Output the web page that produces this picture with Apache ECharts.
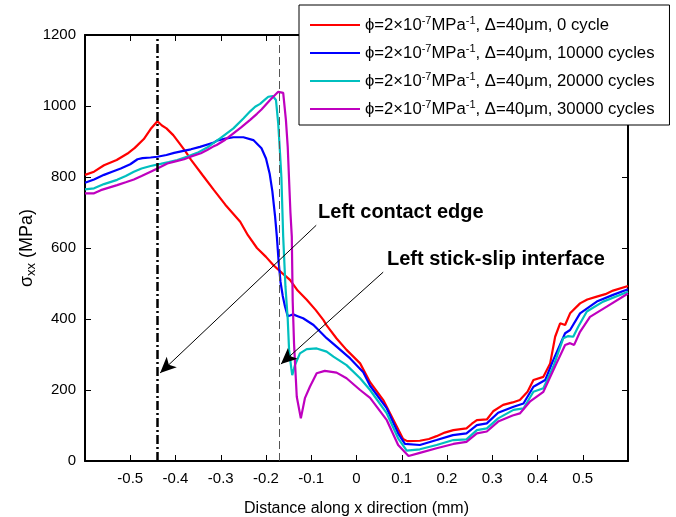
<!DOCTYPE html>
<html>
<head>
<meta charset="utf-8">
<script src="https://cdn.jsdelivr.net/npm/echarts@6/dist/echarts.min.js"></script>
<style>
  html, body { margin: 0; padding: 0; background: #fff; }
  #chart { width: 676px; height: 517px; }
</style>
</head>
<body>
<div id="chart"></div>
<script>
// axis ticks
const xTicks = [-0.5, -0.4, -0.3, -0.2, -0.1, 0, 0.1, 0.2, 0.3, 0.4, 0.5]
const yTicks = [0, 200, 400, 600, 800, 1000, 1200]

const cycleNames = ['0 cycle', '10000 cycles', '20000 cycles', '30000 cycles']
const lineColors = ['#ff0000', '#0000ff', '#00bfbf', '#bf00bf']

// vertical markers (mm)
const contactEdgeX = -0.44
const stickSlipX = -0.172

// sigma_xx (MPa) vs distance (mm)
const cycle0 = [
  [-0.6, 806], [-0.58, 815], [-0.558, 833], [-0.53, 848], [-0.506, 866], [-0.49, 882], [-0.47, 907],
  [-0.455, 935], [-0.44, 957], [-0.43, 945], [-0.42, 937], [-0.405, 918], [-0.392, 896], [-0.378, 872],
  [-0.366, 849], [-0.34, 805], [-0.315, 763], [-0.29, 722], [-0.257, 674], [-0.24, 636], [-0.22, 600],
  [-0.2, 575], [-0.184, 552], [-0.165, 530], [-0.147, 510], [-0.13, 480], [-0.11, 454], [-0.09, 425],
  [-0.073, 397], [-0.066, 382], [-0.044, 345], [-0.022, 313], [0.008, 275], [0.03, 222], [0.06, 170],
  [0.089, 97], [0.103, 62], [0.112, 56], [0.14, 57], [0.16, 62], [0.177, 70], [0.195, 80], [0.214, 87],
  [0.243, 92], [0.255, 105], [0.266, 115], [0.288, 117], [0.302, 140], [0.324, 158], [0.345, 165],
  [0.361, 172], [0.378, 195], [0.391, 228], [0.413, 237], [0.428, 275], [0.439, 350], [0.45, 388],
  [0.461, 383], [0.472, 416], [0.494, 444], [0.51, 455], [0.531, 463], [0.55, 470], [0.567, 480], [0.6, 493]
]
const cycle10000 = [
  [-0.6, 784], [-0.58, 793], [-0.558, 806], [-0.54, 815], [-0.521, 824], [-0.5, 836], [-0.484, 850],
  [-0.473, 853], [-0.455, 855], [-0.44, 857], [-0.42, 862], [-0.403, 868], [-0.385, 873], [-0.366, 878],
  [-0.346, 885], [-0.315, 897], [-0.309, 902], [-0.29, 908], [-0.272, 912], [-0.25, 912], [-0.228, 904],
  [-0.21, 881], [-0.2, 852], [-0.192, 810], [-0.186, 760], [-0.18, 690], [-0.176, 632], [-0.172, 560],
  [-0.168, 505], [-0.163, 465], [-0.158, 435], [-0.152, 408], [-0.147, 410], [-0.14, 413], [-0.13, 408],
  [-0.118, 402], [-0.095, 383], [-0.066, 346], [-0.044, 322], [-0.014, 289], [0.015, 250], [0.03, 212],
  [0.067, 148], [0.092, 78], [0.107, 48], [0.14, 45], [0.177, 59], [0.213, 73], [0.243, 78], [0.266, 101],
  [0.288, 106], [0.313, 136], [0.347, 153], [0.369, 162], [0.391, 209], [0.417, 228], [0.435, 285],
  [0.461, 360], [0.472, 369], [0.494, 416], [0.531, 449], [0.567, 468], [0.6, 484]
]
const cycle20000 = [
  [-0.6, 765], [-0.58, 768], [-0.558, 780], [-0.529, 792], [-0.51, 803], [-0.492, 815], [-0.475, 824],
  [-0.455, 831], [-0.433, 837], [-0.415, 842], [-0.396, 848], [-0.375, 857], [-0.352, 868], [-0.33, 883],
  [-0.315, 897], [-0.3, 910], [-0.272, 937], [-0.25, 965], [-0.235, 985], [-0.224, 998], [-0.213, 1006],
  [-0.205, 1015], [-0.195, 1026], [-0.185, 1028], [-0.178, 1017], [-0.173, 951], [-0.169, 867],
  [-0.166, 800], [-0.162, 632], [-0.157, 491], [-0.152, 400], [-0.149, 313], [-0.144, 260], [-0.142, 242],
  [-0.136, 270], [-0.125, 303], [-0.11, 315], [-0.088, 317], [-0.066, 308], [-0.051, 294], [-0.022, 270],
  [0.008, 233], [0.03, 200], [0.067, 134], [0.092, 64], [0.111, 29], [0.14, 33], [0.177, 45], [0.214, 59],
  [0.243, 61], [0.266, 87], [0.288, 92], [0.313, 120], [0.347, 144], [0.369, 148], [0.391, 195],
  [0.413, 205], [0.435, 266], [0.457, 346], [0.468, 352], [0.479, 350], [0.49, 378], [0.509, 421],
  [0.545, 449], [0.6, 477]
]
const cycle30000 = [
  [-0.6, 754], [-0.58, 754], [-0.565, 763], [-0.529, 777], [-0.51, 785], [-0.492, 793], [-0.475, 803],
  [-0.455, 815], [-0.44, 824], [-0.418, 838], [-0.4, 844], [-0.381, 850], [-0.365, 858], [-0.344, 867],
  [-0.33, 876], [-0.315, 887], [-0.309, 890], [-0.29, 905], [-0.272, 923], [-0.255, 940], [-0.235, 961],
  [-0.22, 978], [-0.21, 990], [-0.191, 1017], [-0.173, 1040], [-0.162, 1037], [-0.156, 961], [-0.152, 885],
  [-0.149, 792], [-0.146, 700], [-0.143, 632], [-0.141, 450], [-0.138, 330], [-0.132, 181], [-0.123, 120],
  [-0.114, 177], [-0.103, 209], [-0.088, 247], [-0.07, 254], [-0.044, 249], [-0.022, 233], [0.008, 200],
  [0.03, 178], [0.067, 115], [0.092, 45], [0.115, 14], [0.14, 23], [0.177, 36], [0.214, 48], [0.243, 54],
  [0.266, 78], [0.288, 83], [0.313, 111], [0.345, 128], [0.361, 134], [0.383, 167], [0.413, 195],
  [0.442, 275], [0.461, 327], [0.472, 332], [0.481, 327], [0.494, 364], [0.516, 406], [0.553, 435], [0.6, 472]
]
const seriesData = [cycle0, cycle10000, cycle20000, cycle30000]

// annotations: [text, anchor], arrows: [from, to]
const contactLabel = ['Left contact edge', [-0.085, 699]]
const stickSlipLabel = ['Left stick-slip interface', [0.0674, 569]]
const contactArrow = [[-0.089, 664], [-0.434, 248]]
const stickSlipArrow = [[0.059, 532], [-0.167, 273]]

const font = 'Liberation Sans, Arial, Helvetica, sans-serif'
const chart = echarts.init(document.getElementById('chart'), null, { renderer: 'canvas' })

const isTick = v => xTicks.some(t => Math.abs(t - v) < 1e-6)
const boxAxis = { lineStyle: { color: '#000', width: 2 } }
const inTick = { inside: true, length: 6, lineStyle: { color: '#000', width: 1 } }

const curves = seriesData.map((d, i) => ({
  name: cycleNames[i],
  type: 'line',
  data: d,
  symbol: 'none',
  showSymbol: false,
  animation: false,
  lineStyle: { color: lineColors[i], width: 2.2 },
  itemStyle: { color: lineColors[i] },
  z: 2
}))

const annotations = {
  type: 'line',
  data: [],
  animation: false,
  silent: true,
  z: 5,
  markLine: {
    silent: true,
    animation: false,
    symbol: ['none', 'none'],
    label: { show: false },
    emphasis: { disabled: true },
    data: [
      { xAxis: contactEdgeX, lineStyle: { color: '#000', width: 2.5, type: [9, 3, 2, 3] } },
      { xAxis: stickSlipX, lineStyle: { color: '#555', width: 1, type: [8, 4] } },
      [
        { coord: contactArrow[0], symbol: 'none', lineStyle: { color: '#000', width: 1, type: 'solid' } },
        { coord: contactArrow[1], symbol: 'arrow', symbolSize: [11, 16] }
      ],
      [
        { coord: stickSlipArrow[0], symbol: 'none', lineStyle: { color: '#000', width: 1, type: 'solid' } },
        { coord: stickSlipArrow[1], symbol: 'arrow', symbolSize: [11, 16] }
      ]
    ]
  },
  markPoint: {
    silent: true,
    animation: false,
    symbol: 'circle',
    symbolSize: 0,
    label: {
      show: true,
      position: [0, 0],
      align: 'left',
      verticalAlign: 'middle',
      color: '#000',
      fontFamily: font,
      fontWeight: 'bold',
      fontSize: 20
    },
    data: [
      { coord: contactLabel[1], label: { formatter: contactLabel[0] } },
      { coord: stickSlipLabel[1], label: { formatter: stickSlipLabel[0] } }
    ]
  }
}

chart.setOption({
  backgroundColor: '#fff',
  animation: false,
  textStyle: { fontFamily: font, color: '#000' },
  grid: { left: 85, right: 48, top: 35, bottom: 56, containLabel: false, outerBoundsMode: 'none' },
  legend: {
    data: cycleNames,
    orient: 'vertical',
    left: 299,
    top: 5,
    icon: 'rect',
    itemWidth: 50,
    itemHeight: 2,
    itemGap: 8,
    padding: [10, 15, 6, 11],
    borderColor: '#000',
    borderWidth: 1,
    backgroundColor: '#fff',
    selectedMode: false,
    formatter: name => '{a|ϕ=2×10}{s|-7}{a|MPa}{s|-1}{a|, Δ=40μm, ' + name + '}',
    textStyle: {
      fontFamily: font,
      color: '#000',
      lineHeight: 20,
      rich: {
        a: { fontFamily: font, fontSize: 16.7, lineHeight: 20, color: '#000' },
        s: { fontFamily: font, fontSize: 11, lineHeight: 12, verticalAlign: 'top', color: '#000' }
      }
    }
  },
  xAxis: [
    {
      type: 'value', min: -0.6, max: 0.6, interval: 0.1,
      name: 'Distance along x direction (mm)', nameLocation: 'middle', nameGap: 40,
      nameTextStyle: { fontFamily: font, fontSize: 16, color: '#000' },
      axisLine: { show: true, onZero: false, ...boxAxis },
      axisTick: inTick,
      axisLabel: {
        fontFamily: font, fontSize: 15, color: '#000', margin: 10,
        showMinLabel: false, showMaxLabel: false,
        formatter: v => isTick(v) ? String(Math.round(v * 10) / 10) : ''
      },
      splitLine: { show: false }
    },
    {
      type: 'value', min: -0.6, max: 0.6, interval: 0.1, position: 'top',
      axisLine: { show: true, onZero: false, ...boxAxis },
      axisTick: inTick,
      axisLabel: { show: false },
      splitLine: { show: false }
    }
  ],
  yAxis: [
    {
      type: 'value', min: 0, max: 1200, interval: 200,
      name: '{a|σ}{b|xx}{a| (MPa)}', nameLocation: 'middle', nameGap: 47, nameMoveOverlap: false,
      nameTextStyle: {
        fontFamily: font, color: '#000',
        rich: {
          a: { fontFamily: font, fontSize: 18, lineHeight: 22, color: '#000' },
          b: { fontFamily: font, fontSize: 13, lineHeight: 13, verticalAlign: 'bottom', color: '#000' }
        }
      },
      axisLine: { show: true, onZero: false, ...boxAxis },
      axisTick: inTick,
      axisLabel: {
        fontFamily: font, fontSize: 15, color: '#000', margin: 9,
        formatter: v => yTicks.includes(v) ? String(v) : ''
      },
      splitLine: { show: false }
    },
    {
      type: 'value', min: 0, max: 1200, interval: 200, position: 'right',
      axisLine: { show: true, onZero: false, ...boxAxis },
      axisTick: inTick,
      axisLabel: { show: false },
      splitLine: { show: false }
    }
  ],
  series: [...curves, annotations]
})
</script>
</body>
</html>
